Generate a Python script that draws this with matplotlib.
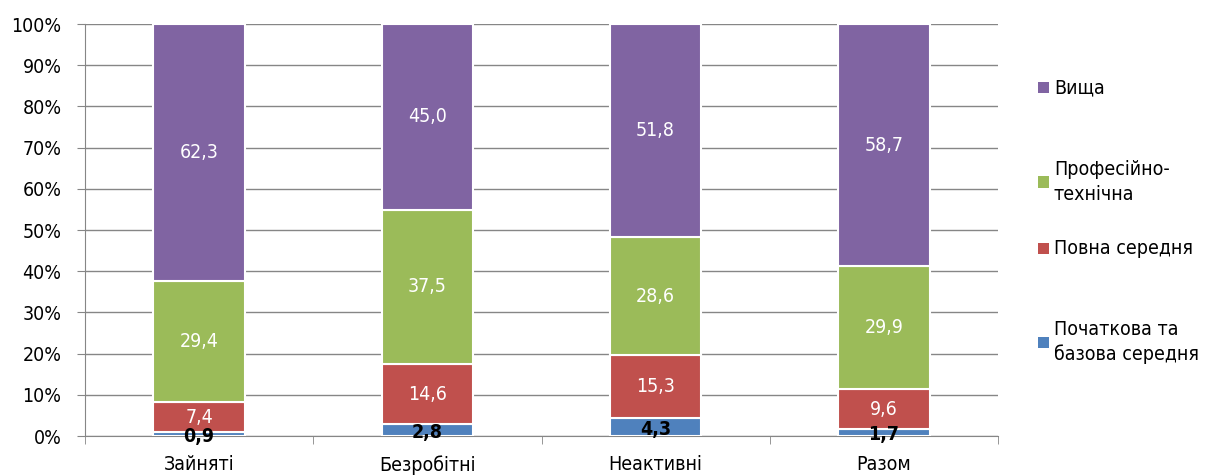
import matplotlib.pyplot as plt
import numpy as np

plt.rcParams['font.family'] = ['DejaVu Sans']
plt.rcParams['font.stretch'] = 'condensed'

categories = ["Зайняті", "Безробітні", "Неактивні", "Разом"]
basic = [0.9, 2.8, 4.3, 1.7]
secondary = [7.4, 14.6, 15.3, 9.6]
vocational = [29.4, 37.5, 28.6, 29.9]
higher = [62.3, 45.0, 51.8, 58.7]

series = [
    ("Початкова та\nбазова середня", basic, "#4F81BD"),
    ("Повна середня", secondary, "#C0504D"),
    ("Професійно-\nтехнічна", vocational, "#9BBB59"),
    ("Вища", higher, "#8064A2"),
]

vals = np.array([s[1] for s in series])
totals = vals.sum(axis=0)
pct = vals / totals * 100

fig = plt.figure(figsize=(12.07, 4.75), dpi=100)
ax = fig.add_axes([85 / 1207, 39 / 475, 913 / 1207, 412 / 475])

x = np.arange(len(categories))
bottom = np.zeros(len(categories))
for i, (name, raw, color) in enumerate(series):
    ax.bar(x, pct[i], 0.4, bottom=bottom, color=color, edgecolor="white",
           linewidth=1.5, zorder=3)
    for j in range(len(categories)):
        yc = bottom[j] + pct[i][j] / 2
        txt = f"{raw[j]:.1f}".replace(".", ",")
        if i == 0:
            ax.text(x[j], yc - 0.6, txt, ha="center", va="center", fontsize=14,
                    fontweight="bold", color="black", zorder=4)
        else:
            ax.text(x[j], yc, txt, ha="center", va="center", fontsize=14,
                    color="white", zorder=4)
    bottom += pct[i]

ax.set_xlim(-0.5, len(categories) - 0.5)
ax.set_ylim(0, 100)
ax.set_yticks(np.arange(0, 101, 10))
ax.set_yticklabels([f"{v}%" for v in range(0, 101, 10)], fontsize=14)
ax.yaxis.grid(True, color="#868686", linewidth=1, zorder=0)
ax.set_xticks(x)
ax.set_xticklabels(categories, fontsize=14)
ax.set_xticks(np.arange(-0.5, len(categories), 1), minor=True)
ax.tick_params(axis="x", which="major", length=0, pad=14)
ax.tick_params(axis="x", which="minor", length=6, color="#868686")
ax.tick_params(axis="y", length=6, color="#868686", pad=11)
for side in ["top", "right"]:
    ax.spines[side].set_visible(False)
for side in ["left", "bottom"]:
    ax.spines[side].set_color("#868686")

# legend drawn by hand, entries spread down the right side
leg_y = [88, 182, 248, 342]
for (name, raw, color), yp in zip(reversed(series), leg_y):
    fy = 1 - yp / 475
    fig.patches.append(plt.Rectangle((1038 / 1207, fy - 5.5 / 475), 11 / 1207, 11 / 475,
                                     transform=fig.transFigure, facecolor=color,
                                     edgecolor="none"))
    fig.text(1054 / 1207, fy, name, ha="left", va="center", fontsize=14,
             linespacing=1.4)

fig.savefig("out.png", dpi=100)
